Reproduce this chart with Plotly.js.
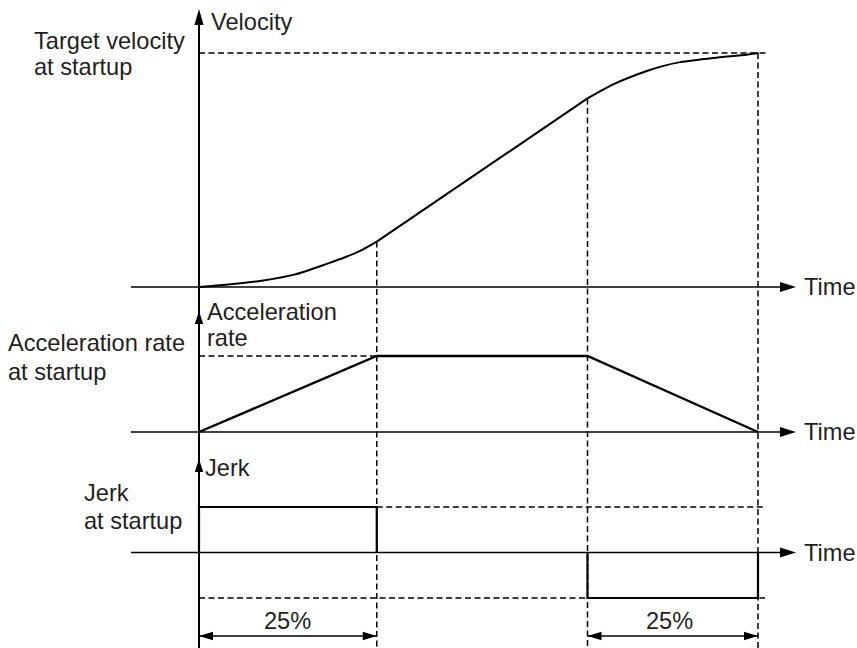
<!DOCTYPE html>
<html><head><meta charset="utf-8">
<script src="https://cdn.plot.ly/plotly-3.0.1.min.js"></script>
<style>html,body{margin:0;padding:0;background:#fff}#chart{width:857px;height:648px}</style>
</head><body><div id="chart"></div>
<script>
// ---------------- data (time as a fraction of the startup period) ----------------
const phaseTimes = [0, 0.318, 0.695, 1.0];
const velRiseT = [0, 0.052, 0.112, 0.172, 0.231, 0.261, 0.291, 0.318];
const velRiseV = [0, 0.011, 0.027, 0.054, 0.101, 0.127, 0.158, 0.194];
const velLinT  = [0.318, 0.695];
const velLinV  = [0.194, 0.806];
const velTopT  = [0.695, 0.741, 0.801, 0.831, 0.861, 0.920, 0.980, 1.0];
const velTopV  = [0.806, 0.866, 0.923, 0.945, 0.961, 0.979, 0.993, 1.0];
const accT = [0, 0.318, 0.695, 1.0];
const accV = [0, 1, 1, 0];
const jerkUpT = [0, 0, 0.318, 0.318];
const jerkUpV = [0, 1, 1, 0];
const jerkDnT = [0.695, 0.695, 1.0, 1.0];
const jerkDnV = [0, -1, -1, 0];
const targetVel = 1, targetAcc = 1, targetJerk = 1;
const spanLabels = ['25%', '25%'];

// ---------------- geometry ----------------
const W = 857, H = 648;
const PX_T0 = 199, PX_T1 = 758;
const tPerPx = 1 / (PX_T1 - PX_T0);
const tx = px => (px - PX_T0) * tPerPx;
const xRange = [tx(0), tx(W)];
function mkY(zeroPx, onePx) {
  const u = 1 / (zeroPx - onePx);
  return { range: [(zeroPx - H) * u, zeroPx * u], at: p => (zeroPx - p) * u };
}
const VY = mkY(287, 53), AY = mkY(432, 356), JY = mkY(552.5, 507);

const INK = '#000000', TXT = '#231f20';
const FONT = 'Liberation Sans, Arial, Helvetica, sans-serif';
const DASH = '6px,3.5px';

function line(xref, yref, x0, y0, x1, y1, w, dash) {
  return {type: 'line', xref, yref, x0, y0, x1, y1, layer: 'below',
          line: {color: INK, width: w, dash: dash || 'solid'}};
}
function head(xref, yref, tipX, tipY, dir, len, hw) {
  let p;
  if (dir === 'right') p = `M0,0L${-len},${hw}L${-len},${-hw}Z`;
  else if (dir === 'left') p = `M0,0L${len},${hw}L${len},${-hw}Z`;
  else p = `M0,0L${-hw},${-len}L${hw},${-len}Z`;
  return {type: 'path', xref, yref, xsizemode: 'pixel', ysizemode: 'pixel',
          xanchor: tipX, yanchor: tipY, path: p, fillcolor: INK, line: {width: 0}};
}

const tA = phaseTimes[1], tB = phaseTimes[2], tE = phaseTimes[3];
const shapes = [];
// vertical axis line
shapes.push({type: 'line', xref: 'x', yref: 'paper', x0: 0, x1: 0, y0: 0, y1: 1 - 16 / H,
             line: {color: INK, width: 2}});
shapes.push(head('x', 'y', 0, VY.at(9), 'up', 16, 4.6));
shapes.push(head('x', 'y2', 0, AY.at(311), 'up', 13, 4.2));
shapes.push(head('x', 'y3', 0, JY.at(459), 'up', 13, 4.2));
// horizontal time axes
['y', 'y2', 'y3'].forEach(ref => {
  shapes.push(line('x', ref, tx(131), 0, tx(783), 0, 1.3));
  shapes.push(head('x', ref, tx(796), 0, 'right', 16, 5));
});
// dashed guides
const yBottomV = VY.range[0];
shapes.push(line('x', 'y', 0, targetVel, tx(767), targetVel, 1.5, DASH));
shapes.push(line('x', 'y', tA, velRiseV[velRiseV.length - 1], tA, yBottomV, 1.5, DASH));
shapes.push(line('x', 'y', tB, velTopV[0], tB, yBottomV, 1.5, DASH));
shapes.push(line('x', 'y', tE, targetVel, tE, yBottomV, 1.5, DASH));
shapes.push(line('x', 'y2', 0, targetAcc, tA, targetAcc, 1.5, DASH));
shapes.push(line('x', 'y3', tA, targetJerk, tx(765), targetJerk, 1.5, DASH));
shapes.push(line('x', 'y3', 0, -targetJerk, tx(765), -targetJerk, 1.5, DASH));
// 25% dimension arrows
const yDim = JY.at(636);
[[0, tA], [tB, tE]].forEach(([a, b]) => {
  shapes.push(line('x', 'y3', a, yDim, b, yDim, 1.5));
  shapes.push(head('x', 'y3', a, yDim, 'left', 14, 4.3));
  shapes.push(head('x', 'y3', b, yDim, 'right', 14, 4.3));
});

const lineSty = w => ({color: INK, width: w});
const traces = [
  {x: velRiseT, y: velRiseV, xaxis: 'x', yaxis: 'y', mode: 'lines', line: Object.assign(lineSty(2), {shape: 'spline', smoothing: 0.8})},
  {x: velLinT, y: velLinV, xaxis: 'x', yaxis: 'y', mode: 'lines', line: lineSty(2)},
  {x: velTopT, y: velTopV, xaxis: 'x', yaxis: 'y', mode: 'lines', line: Object.assign(lineSty(2), {shape: 'spline', smoothing: 0.8})},
  {x: accT, y: accV, xaxis: 'x', yaxis: 'y2', mode: 'lines', line: lineSty(2.4)},
  {x: jerkUpT, y: jerkUpV, xaxis: 'x', yaxis: 'y3', mode: 'lines', line: lineSty(2.2)},
  {x: jerkDnT, y: jerkDnV, xaxis: 'x', yaxis: 'y3', mode: 'lines', line: lineSty(2.2)}
];

function txt(text, px, py, anchor) {
  return {text, xref: 'paper', yref: 'paper', x: px / W, y: 1 - py / H,
          xanchor: anchor || 'left', yanchor: 'middle', showarrow: false,
          font: {family: FONT, size: 23.6, color: TXT}};
}
const annotations = [
  txt('Target velocity', 32, 41), txt('at startup', 32, 67),
  txt('Velocity', 209, 22),
  txt('Time', 802, 287), txt('Time', 802, 432), txt('Time', 802, 552.5),
  txt('Acceleration', 205, 312), txt('rate', 205, 338),
  txt('Acceleration rate', 6, 343), txt('at startup', 6, 372),
  txt('Jerk', 203, 468),
  txt('Jerk', 82, 493), txt('at startup', 82, 521),
  txt(spanLabels[0], PX_T0 + (0 + tA) / 2 / tPerPx, 621, 'center'),
  txt(spanLabels[1], PX_T0 + (tB + tE) / 2 / tPerPx - 3, 621, 'center')
];

const hidden = {visible: false, fixedrange: true, showgrid: false, zeroline: false};
const layout = {
  width: W, height: H, margin: {l: 0, r: 0, t: 0, b: 0},
  paper_bgcolor: '#fff', plot_bgcolor: '#fff', showlegend: false,
  xaxis: Object.assign({range: xRange, domain: [0, 1]}, hidden),
  yaxis: Object.assign({range: VY.range, domain: [0, 1]}, hidden),
  yaxis2: Object.assign({range: AY.range, overlaying: 'y'}, hidden),
  yaxis3: Object.assign({range: JY.range, overlaying: 'y'}, hidden),
  shapes, annotations
};
Plotly.newPlot('chart', traces, layout, {staticPlot: true, displayModeBar: false});
</script></body></html>
